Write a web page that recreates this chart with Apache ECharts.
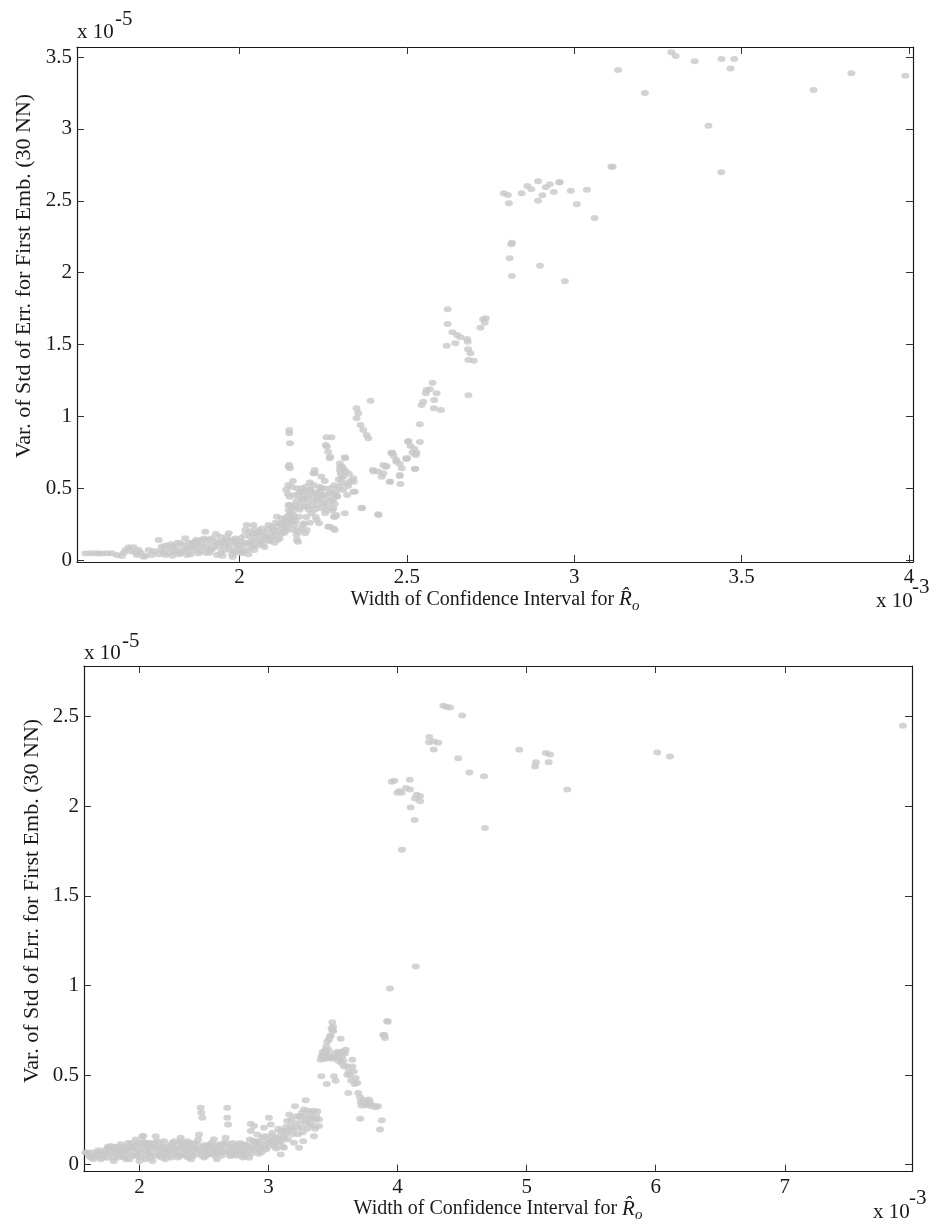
<!DOCTYPE html>
<html>
<head>
<meta charset="utf-8">
<script src="https://cdn.jsdelivr.net/npm/echarts@6.0.0/dist/echarts.min.js"></script>
<style>
  html, body { margin: 0; padding: 0; background: #ffffff; }
  #chart { width: 940px; height: 1224px; }
</style>
</head>
<body>
<div id="chart"></div>
<script>
// Tick positions (x in units of 1e-3, y in units of 1e-5)
const upperXTicks = [2, 2.5, 3, 3.5, 4];
const upperYTicks = [0, 0.5, 1, 1.5, 2, 2.5, 3, 3.5];
const lowerXTicks = [2, 3, 4, 5, 6, 7];
const lowerYTicks = [0, 0.5, 1, 1.5, 2, 2.5];

const xTitleText = 'Width of Confidence Interval for ';
const yTitleText = 'Var. of Std of Err. for First Emb. (30 NN)';

// Upper panel: [width of CI (x1e-3), variance (x1e-5)]
const upperPoints = [
  [1.540,0.045],[1.555,0.047],[1.570,0.047],[1.580,0.045],[1.590,0.045],[1.605,0.047],[1.619,0.047],[1.634,0.035],
  [1.649,0.028],[1.655,0.05],[1.660,0.07],[1.669,0.088],[1.675,0.06],[1.684,0.088],[1.690,0.05],[1.694,0.035],
  [1.699,0.07],[1.705,0.05],[1.714,0.023],[1.720,0.03],[1.729,0.07],[1.739,0.035],[1.745,0.06],[1.759,0.139],
  [1.760,0.04],[1.769,0.093],[1.779,0.035],[1.780,0.10],[1.790,0.05],[1.799,0.093],[1.800,0.03],[1.810,0.09],
  [1.814,0.058],[1.820,0.04],[1.823,0.116],[1.830,0.07],[1.838,0.151],[1.843,0.035],[1.845,0.08],[1.850,0.06],
  [1.858,0.093],[1.860,0.12],[1.868,0.127],[1.870,0.07],[1.875,0.10],[1.878,0.047],[1.888,0.139],[1.890,0.09],
  [1.898,0.197],[1.903,0.081],[1.905,0.11],[1.910,0.05],[1.918,0.151],[1.920,0.08],[1.928,0.104],[1.930,0.18],
  [1.933,0.035],[1.935,0.12],[1.943,0.162],[1.950,0.03],[1.953,0.116],[1.955,0.07],[1.960,0.14],[1.968,0.186],
  [1.970,0.10],[1.973,0.07],[1.980,0.02],[1.983,0.139],[1.985,0.06],[1.990,0.12],[1.993,0.093],[2.000,0.08],
  [2.003,0.151],[2.008,0.047],[2.010,0.10],[2.018,0.209],[2.022,0.244],[2.025,0.07],[2.028,0.116],[2.032,0.162],
  [2.035,0.09],[2.040,0.18],[2.042,0.244],[2.045,0.07],[2.050,0.14],[2.052,0.186],[2.060,0.20],[2.062,0.127],
  [2.067,0.22],[2.070,0.11],[2.077,0.162],[2.080,0.17],[2.087,0.244],[2.090,0.13],[2.092,0.139],[2.100,0.19],
  [2.102,0.209],[2.105,0.12],[2.110,0.23],[2.112,0.301],[2.115,0.14],[2.121,0.255],[2.125,0.18],[2.127,0.29],
  [2.130,0.24],[2.132,0.22],[2.137,0.267],[2.140,0.25],[2.142,0.209],
  [1.765,0.07],[1.775,0.05],[1.785,0.08],[1.795,0.11],[1.805,0.06],[1.815,0.12],[1.825,0.05],[1.835,0.10],
  [1.848,0.12],[1.855,0.04],[1.865,0.09],[1.872,0.14],[1.882,0.06],[1.885,0.11],[1.895,0.15],[1.900,0.05],
  [1.908,0.14],[1.915,0.07],[1.925,0.13],[1.938,0.09],[1.945,0.05],[1.948,0.13],[1.958,0.10],[1.963,0.16],
  [1.975,0.13],[1.978,0.04],[1.988,0.15],[1.995,0.05],[1.998,0.11],[2.005,0.13],[2.012,0.06],[2.015,0.17],
  [2.020,0.12],[2.027,0.04],[2.030,0.20],[2.037,0.13],[2.043,0.10],[2.047,0.21],[2.055,0.10],[2.057,0.17],
  [2.065,0.14],[2.072,0.19],[2.075,0.09],[2.083,0.14],[2.085,0.21],[2.095,0.16],[2.097,0.23],[2.107,0.17],
  [2.108,0.26],[2.118,0.20],[2.120,0.15],[2.128,0.25],[2.135,0.19],[2.138,0.29],[2.143,0.23],[2.145,0.31],
  [2.146,0.383],[2.147,0.348],[2.150,0.30],[2.152,0.383],[2.155,0.26],[2.160,0.32],[2.162,0.278],[2.165,0.24],
  [2.172,0.139],[2.175,0.20],[2.175,0.127],[2.171,0.174],[2.161,0.209],[2.185,0.22],[2.196,0.186],[2.190,0.244],
  [2.200,0.30],[2.201,0.209],[2.192,0.255],[2.210,0.26],[2.179,0.301],[2.156,0.278],[2.216,0.325],[2.225,0.35],
  [2.231,0.278],[2.238,0.255],[2.256,0.325],[2.171,0.36],[2.180,0.35],[2.201,0.371],[2.231,0.383],[2.260,0.348],
  [2.280,0.36],[2.265,0.38],[2.166,0.452],[2.186,0.429],[2.211,0.452],[2.235,0.44],[2.255,0.452],[2.250,0.40],
  [2.240,0.43],[2.205,0.40],[2.190,0.42],[2.165,0.38],[2.150,0.44],[2.145,0.46],[2.140,0.49],[2.146,0.522],
  [2.156,0.51],[2.186,0.499],[2.196,0.475],[2.181,0.475],[2.196,0.44],[2.211,0.487],[2.221,0.522],[2.221,0.418],
  [2.241,0.475],[2.245,0.499],[2.251,0.499],[2.230,0.47],[2.170,0.50],[2.160,0.55],[2.210,0.54],[2.255,0.55],
  [2.245,0.58],[2.225,0.626],[2.225,0.603],[2.221,0.603],[2.280,0.42],[2.270,0.50],
  [2.148,0.27],[2.153,0.33],[2.158,0.36],[2.163,0.30],[2.168,0.27],[2.170,0.41],[2.176,0.45],[2.182,0.39],
  [2.188,0.47],[2.193,0.37],[2.198,0.51],[2.203,0.43],[2.207,0.35],[2.213,0.49],[2.218,0.38],[2.223,0.46],
  [2.228,0.30],[2.233,0.42],[2.238,0.51],[2.243,0.36],[2.248,0.45],[2.253,0.39],[2.262,0.43],[2.268,0.47],
  [2.273,0.41],[2.278,0.46],[2.283,0.52],[2.288,0.47],[2.293,0.50],[2.297,0.56],[2.303,0.60],[2.306,0.54],
  [2.312,0.63],[2.327,0.60],[2.333,0.55],
  [2.149,0.905],[2.149,0.882],[2.151,0.812],[2.149,0.661],[2.151,0.638],[2.147,0.65],
  [2.261,0.789],[2.271,0.719],[2.260,0.854],[2.275,0.854],[2.258,0.80],[2.265,0.754],[2.270,0.708],[2.315,0.715],
  [2.316,0.708],[2.300,0.673],[2.301,0.649],[2.300,0.626],[2.308,0.649],[2.318,0.615],[2.311,0.58],[2.305,0.58],
  [2.340,0.569],[2.342,0.545],[2.321,0.534],[2.325,0.515],[2.300,0.51],[2.310,0.487],[2.322,0.452],[2.345,0.475],
  [2.341,0.475],[2.292,0.445],[2.291,0.44],[2.285,0.39],[2.278,0.343],[2.282,0.301],[2.286,0.301],[2.281,0.22],
  [2.270,0.232],[2.285,0.209],[2.265,0.232],[2.290,0.313],[2.315,0.325],[2.366,0.36],[2.365,0.364],
  [2.392,1.109],[2.350,1.056],[2.355,1.021],[2.350,0.986],[2.362,0.939],[2.370,0.905],[2.380,0.87],[2.385,0.847],
  [2.401,0.615],[2.414,0.615],[2.399,0.626],[2.425,0.58],[2.416,0.313],[2.414,0.318],[2.430,0.661],[2.437,0.649],
  [2.440,0.654],[2.450,0.545],[2.449,0.545],[2.455,0.742],[2.454,0.747],[2.457,0.747],[2.461,0.724],[2.469,0.696],
  [2.469,0.684],[2.479,0.668],[2.485,0.638],[2.479,0.585],[2.479,0.592],[2.481,0.529],[2.430,0.603],
  [2.499,0.703],[2.499,0.708],[2.501,0.708],[2.504,0.823],[2.505,0.828],[2.511,0.793],[2.517,0.747],[2.522,0.775],
  [2.524,0.633],[2.525,0.635],[2.527,0.731],[2.529,0.747],[2.539,0.944],[2.539,0.821],
  [2.544,1.079],[2.549,1.102],[2.557,1.16],[2.559,1.183],[2.569,1.188],[2.577,1.234],[2.582,1.113],[2.581,1.056],
  [2.589,1.16],[2.602,1.044],
  [2.619,1.491],[2.622,1.745],[2.622,1.642],[2.636,1.585],[2.645,1.508],[2.650,1.566],[2.660,1.55],[2.680,1.538],
  [2.682,1.519],[2.683,1.466],[2.690,1.438],[2.684,1.392],[2.700,1.387],[2.684,1.146],[2.720,1.617],[2.728,1.675],
  [2.733,1.651],[2.736,1.682],
  [2.790,2.552],[2.802,2.54],[2.805,2.482],[2.843,2.552],[2.860,2.603],[2.872,2.58],[2.892,2.635],[2.892,2.50],
  [2.905,2.538],[2.915,2.594],[2.927,2.614],[2.939,2.561],[2.955,2.628],[2.957,2.628],[2.990,2.57],[3.008,2.475],
  [3.038,2.577],[3.061,2.38],
  [2.814,2.208],[2.812,2.198],[2.807,2.10],[2.814,1.976],[2.898,2.048],[2.972,1.939],
  [3.111,2.737],[3.115,2.737],[3.131,3.41],[3.211,3.25],[3.290,3.533],[3.303,3.507],[3.360,3.47],[3.401,3.022],
  [3.439,2.698],[3.440,3.486],[3.467,3.42],[3.478,3.486],[3.715,3.27],[3.828,3.387],[3.989,3.37]
];

// Lower panel: [width of CI (x1e-3), variance (x1e-5)]
const lowerPoints = [
  [1.580,0.067],[1.596,0.067],[1.610,0.05],[1.634,0.067],[1.650,0.04],[1.673,0.067],[1.690,0.05],[1.700,0.03],
  [1.712,0.057],[1.730,0.08],[1.750,0.039],[1.760,0.09],[1.777,0.104],[1.790,0.06],[1.800,0.02],[1.815,0.08],
  [1.828,0.057],[1.840,0.10],[1.854,0.113],[1.870,0.07],[1.880,0.04],[1.893,0.085],[1.900,0.03],[1.910,0.12],
  [1.932,0.057],[1.945,0.09],[1.957,0.104],[1.970,0.14],[1.980,0.05],[1.990,0.08],[2.000,0.02],[2.009,0.067],
  [2.022,0.159],[2.030,0.16],[2.035,0.113],[2.050,0.05],[2.060,0.09],[2.075,0.12],[2.087,0.039],[2.100,0.02],
  [2.112,0.094],[2.126,0.159],[2.135,0.13],[2.150,0.05],[2.164,0.067],[2.175,0.10],[2.190,0.131],[2.200,0.03],
  [2.210,0.07],[2.229,0.085],[2.240,0.11],[2.254,0.122],[2.265,0.06],[2.280,0.09],[2.293,0.057],[2.300,0.04],
  [2.310,0.12],[2.319,0.15],[2.330,0.10],[2.345,0.085],[2.355,0.05],[2.370,0.131],[2.380,0.09],[2.390,0.06],
  [2.400,0.03],[2.409,0.076],[2.420,0.12],[2.435,0.09],[2.448,0.113],[2.461,0.168],[2.474,0.317],[2.479,0.289],
  [2.487,0.261],[2.490,0.10],[2.500,0.04],[2.512,0.08],[2.525,0.057],[2.540,0.11],[2.552,0.094],[2.565,0.06],
  [2.577,0.141],[2.590,0.09],[2.600,0.03],[2.603,0.076],[2.615,0.10],[2.629,0.113],[2.645,0.07],[2.655,0.12],
  [2.668,0.15],[2.680,0.317],[2.680,0.261],[2.686,0.224],[2.695,0.10],[2.700,0.05],[2.707,0.076],[2.720,0.09],
  [2.732,0.104],[2.745,0.06],[2.760,0.11],[2.771,0.085],[2.785,0.07],[2.800,0.04],[2.810,0.113],[2.820,0.08],
  [2.835,0.10],[2.849,0.039],[2.855,0.14],[2.862,0.228],[2.862,0.187],[2.874,0.094],[2.887,0.215],[2.900,0.13],
  [2.913,0.168],[2.913,0.113],[2.925,0.06],[2.940,0.10],[2.952,0.15],[2.965,0.206],[2.978,0.085],[2.990,0.12],
  [3.003,0.261],[3.017,0.224],[3.029,0.178],[3.042,0.122],[3.060,0.09],[3.080,0.14],[3.094,0.187],[3.094,0.057],
  [3.110,0.10],[3.120,0.15],[3.120,0.094],[3.145,0.243],[3.145,0.187],[3.160,0.28],[3.172,0.215],[3.185,0.17],
  [3.197,0.122],[3.205,0.326],[3.215,0.27],[3.223,0.206],[3.236,0.094],[3.249,0.243],[3.260,0.29],[3.269,0.131],
  [3.275,0.307],[3.288,0.359],[3.288,0.233],[3.300,0.20],[3.315,0.26],[3.327,0.289],[3.340,0.22],[3.352,0.159],
  [3.365,0.25],[3.378,0.298],[3.391,0.252],[3.391,0.215],
  [1.620,0.04],[1.640,0.03],[1.660,0.05],[1.680,0.08],[1.705,0.07],[1.720,0.04],[1.740,0.06],[1.755,0.10],
  [1.770,0.06],[1.785,0.09],[1.795,0.04],[1.805,0.10],[1.820,0.07],[1.835,0.04],[1.848,0.08],[1.860,0.05],
  [1.875,0.10],[1.888,0.06],[1.905,0.08],[1.920,0.10],[1.925,0.03],[1.940,0.12],[1.952,0.05],[1.965,0.08],
  [1.975,0.11],[1.995,0.12],[2.005,0.04],[2.015,0.10],[2.027,0.13],[2.040,0.08],[2.045,0.03],[2.055,0.12],
  [2.068,0.06],[2.080,0.10],[2.092,0.07],[2.105,0.12],[2.118,0.05],[2.130,0.10],[2.142,0.08],[2.157,0.12],
  [2.170,0.04],[2.182,0.09],[2.195,0.06],[2.205,0.10],[2.218,0.05],[2.235,0.08],[2.247,0.04],[2.260,0.10],
  [2.272,0.13],[2.285,0.07],[2.305,0.09],[2.315,0.05],[2.325,0.13],[2.338,0.06],[2.350,0.11],[2.362,0.08],
  [2.375,0.04],[2.385,0.12],[2.395,0.10],[2.415,0.05],[2.428,0.09],[2.442,0.06],[2.455,0.14],[2.468,0.08],
  [2.482,0.05],[2.495,0.07],[2.505,0.11],[2.518,0.05],[2.532,0.09],[2.545,0.06],[2.558,0.12],[2.572,0.08],
  [2.585,0.05],[2.595,0.11],[2.610,0.06],[2.622,0.09],[2.637,0.05],[2.650,0.10],[2.662,0.07],[2.675,0.12],
  [2.690,0.07],[2.712,0.05],[2.725,0.12],[2.738,0.08],[2.752,0.05],[2.765,0.09],[2.778,0.12],[2.792,0.06],
  [2.805,0.09],[2.815,0.05],[2.828,0.11],[2.842,0.07],[2.858,0.10],[2.868,0.06],[2.880,0.13],[2.895,0.08],
  [2.905,0.12],[2.918,0.09],[2.932,0.13],[2.945,0.07],[2.958,0.11],[2.972,0.16],[2.985,0.09],[2.998,0.14],
  [3.010,0.11],[3.022,0.16],[3.035,0.13],[3.048,0.10],[3.055,0.15],[3.068,0.12],[3.075,0.20],[3.088,0.16],
  [3.100,0.13],[3.108,0.19],[3.130,0.17],[3.135,0.21],[3.150,0.14],[3.165,0.20],[3.178,0.25],[3.190,0.19],
  [3.210,0.23],[3.230,0.17],[3.240,0.27],[3.255,0.21],[3.265,0.18],[3.280,0.27],[3.295,0.25],[3.305,0.30],
  [3.320,0.23],[3.335,0.26],[3.345,0.30],[3.360,0.20],[3.370,0.27],
  [3.404,0.585],[3.409,0.493],[3.417,0.613],[3.430,0.606],[3.443,0.641],[3.451,0.45],[3.455,0.687],[3.455,0.594],
  [3.476,0.715],[3.482,0.72],[3.494,0.794],[3.494,0.752],[3.494,0.591],[3.502,0.746],[3.507,0.493],[3.520,0.468],
  [3.546,0.594],[3.559,0.702],[3.564,0.567],[3.572,0.632],[3.585,0.548],[3.598,0.641],[3.610,0.502],[3.618,0.40],
  [3.623,0.52],[3.649,0.585],[3.649,0.548],[3.675,0.483],[3.688,0.456],[3.709,0.376],[3.709,0.256],[3.714,0.35],
  [3.753,0.332],[3.778,0.363],[3.796,0.326],[3.848,0.326],[3.864,0.196],[3.877,0.248],[3.889,0.724],[3.902,0.706],
  [3.897,0.724],[3.920,0.802],[3.923,0.798],[3.941,0.983],[4.140,1.106],
  [3.410,0.60],[3.420,0.63],[3.435,0.59],[3.440,0.62],[3.448,0.66],[3.460,0.61],[3.465,0.64],[3.470,0.70],
  [3.480,0.60],[3.488,0.76],[3.500,0.77],[3.505,0.60],[3.515,0.62],[3.528,0.60],[3.535,0.63],[3.540,0.58],
  [3.555,0.62],[3.570,0.60],[3.580,0.58],[3.592,0.62],[3.605,0.55],[3.630,0.50],[3.640,0.47],[3.660,0.52],
  [3.668,0.45],[3.695,0.40],[3.720,0.33],[3.735,0.36],[3.765,0.34],[3.785,0.35],[3.810,0.33],[3.830,0.32],
  [3.954,2.137],[3.975,2.143],[3.998,2.076],[4.013,2.085],[4.032,2.076],[4.034,1.757],[4.065,2.102],[4.094,2.148],
  [4.096,2.094],[4.101,1.993],[4.132,1.924],[4.135,2.043],[4.148,2.065],[4.174,2.057],[4.174,2.028],[4.243,2.357],
  [4.246,2.387],[4.282,2.361],[4.280,2.317],[4.315,2.354],[4.354,2.561],[4.380,2.554],[4.406,2.552],[4.470,2.268],
  [4.501,2.507],[4.556,2.189],[4.670,2.167],[4.677,1.879],[4.943,2.315],[5.065,2.222],[5.072,2.246],[5.148,2.298],
  [5.171,2.246],[5.181,2.289],[5.315,2.094],[6.012,2.30],[6.111,2.278],[7.916,2.45]
];

const FONT = '"Liberation Serif", "DejaVu Serif", serif';
const INK = '#1a1a1a';
const DOT = '#c8c8c8';
const TICK_FS = 21;

function xAxisPair(gridIndex, min, max, ticks) {
  const line = { show: true, onZero: false, lineStyle: { color: INK, width: 1.2 } };
  const tick = { show: true, inside: true, length: 7, customValues: ticks, lineStyle: { color: '#333', width: 1 } };
  return [
    {
      type: 'value', gridIndex, position: 'bottom', min, max,
      axisLine: line, axisTick: tick, splitLine: { show: false },
      axisLabel: { customValues: ticks, margin: 5, color: INK, fontFamily: FONT, fontSize: TICK_FS },
      name: '{m|' + xTitleText + '}{r|R\u0302}{s|o}',
      nameLocation: 'middle', nameGap: 23,
      nameTextStyle: {
        rich: {
          m: { fontFamily: FONT, fontSize: 20, color: INK, lineHeight: 28, verticalAlign: 'middle' },
          r: { fontFamily: FONT, fontSize: 21, color: INK, fontStyle: 'italic', lineHeight: 28, verticalAlign: 'middle' },
          s: { fontFamily: FONT, fontSize: 15, color: INK, fontStyle: 'italic', lineHeight: 28, verticalAlign: 'bottom' }
        }
      }
    },
    {
      type: 'value', gridIndex, position: 'top', min, max,
      axisLine: line, axisTick: tick, splitLine: { show: false },
      axisLabel: { show: false }
    }
  ];
}

function yAxisPair(gridIndex, min, max, ticks) {
  const line = { show: true, onZero: false, lineStyle: { color: INK, width: 1.2 } };
  const tick = { show: true, inside: true, length: 7, customValues: ticks, lineStyle: { color: '#333', width: 1 } };
  return [
    {
      type: 'value', gridIndex, position: 'left', min, max,
      axisLine: line, axisTick: tick, splitLine: { show: false },
      axisLabel: { customValues: ticks, margin: 5, color: INK, fontFamily: FONT, fontSize: TICK_FS }
    },
    {
      type: 'value', gridIndex, position: 'right', min, max,
      axisLine: line, axisTick: tick, splitLine: { show: false },
      axisLabel: { show: false }
    }
  ];
}

function label(text, x, y) {
  return {
    type: 'text', x, y, silent: true,
    style: { text, fill: INK, font: TICK_FS + 'px ' + FONT, align: 'left', verticalAlign: 'middle' }
  };
}

const chart = echarts.init(document.getElementById('chart'), null, { renderer: 'canvas', width: 940, height: 1224 });

chart.setOption({
  animation: false,
  backgroundColor: '#ffffff',
  grid: [
    { left: 77, top: 47, width: 836, height: 515, containLabel: false },
    { left: 84, top: 666, width: 828, height: 508, containLabel: false }
  ],
  xAxis: [
    ...xAxisPair(0, 1.515, 4.012, upperXTicks),
    ...xAxisPair(1, 1.57, 7.986, lowerXTicks)
  ],
  yAxis: [
    ...yAxisPair(0, -0.014, 3.57, upperYTicks),
    ...yAxisPair(1, -0.039, 2.783, lowerYTicks)
  ],
  series: [
    {
      type: 'scatter', xAxisIndex: 0, yAxisIndex: 0, data: upperPoints,
      symbol: 'circle', symbolSize: [8, 6], itemStyle: { color: DOT }, silent: true
    },
    {
      type: 'scatter', xAxisIndex: 2, yAxisIndex: 2, data: lowerPoints,
      symbol: 'circle', symbolSize: [8, 6], itemStyle: { color: DOT }, silent: true
    }
  ],
  graphic: [
    // vertical axis titles
    {
      type: 'text', x: 24, y: 276, rotation: Math.PI / 2, silent: true,
      style: { text: yTitleText, fill: INK, font: '22px ' + FONT, align: 'center', verticalAlign: 'middle' }
    },
    {
      type: 'text', x: 32, y: 901, rotation: Math.PI / 2, silent: true,
      style: { text: yTitleText, fill: INK, font: '22px ' + FONT, align: 'center', verticalAlign: 'middle' }
    },
    // scale multipliers
    label('x 10', 77, 32), label('-5', 115, 19),
    label('x 10', 84, 653), label('-5', 122, 641),
    label('x 10', 876, 601), label('-3', 912, 587),
    label('x 10', 873, 1212), label('-3', 909, 1198)
  ]
});
</script>
</body>
</html>
